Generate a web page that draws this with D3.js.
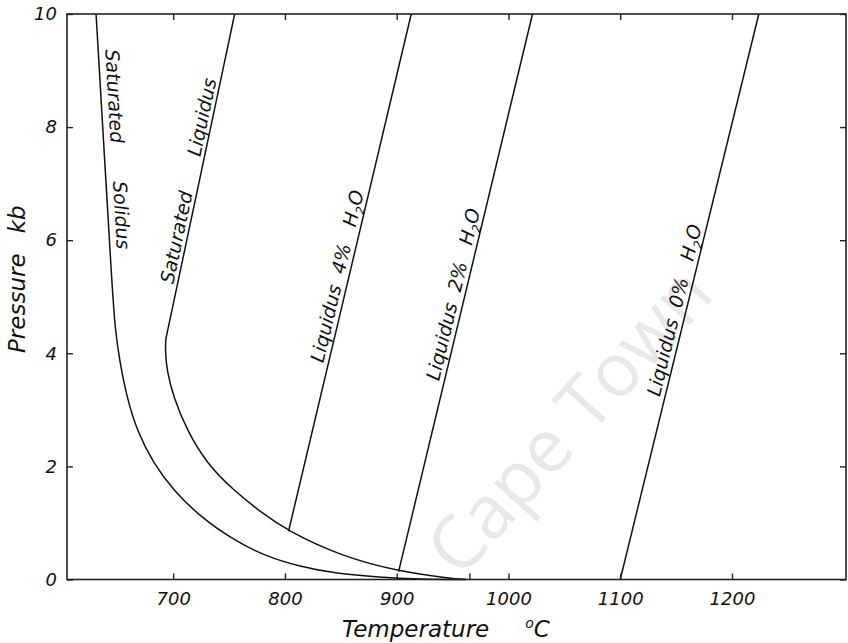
<!DOCTYPE html>
<html>
<head>
<meta charset="utf-8">
<script src="https://cdn.jsdelivr.net/npm/d3@7"></script>
<style>
  body { margin: 0; background: #fff; }
  svg { display: block; }
  text { font-family: "DejaVu Sans", sans-serif; font-style: italic; fill: #111; }
</style>
</head>
<body>
<div id="chart"></div>
<script>
// ticks
const tempTicks = [700, 800, 900, 1000, 1100, 1200]
const pressTicks = [0, 2, 4, 6, 8, 10]
const solidusEndTick = [965]

// saturated solidus (T degC, P kb)
const solidusT = [631, 638, 645, 648, 652.5, 658.5, 667.4, 682.3, 700.2, 724.1, 753.9, 783.8, 813.6, 843.5, 885.3, 921, 962]
const solidusP = [10, 7.65, 5.3, 4.41, 3.82, 3.23, 2.64, 2.05, 1.58, 1.11, 0.70, 0.40, 0.23, 0.11, 0.035, 0.005, 0]

// saturated liquidus, meets the water-undersaturated liquidi at low P
const satLiqT = [755, 704.7, 693.6, 692.8, 694.3, 700.2, 712.2, 730.1, 753.9, 777.8, 803.2, 849.5, 901.7, 948, 962]
const satLiqP = [10, 5.3, 4.27, 4.06, 3.70, 3.23, 2.64, 2.05, 1.58, 1.20, 0.85, 0.42, 0.14, 0.02, 0]
const satLiqKink = 2   // index of the corner near 4.3 kb

// liquidus at fixed water content
const liq4T = [803.2, 913], liq4P = [0.85, 10]
const liq2T = [901.7, 1021.5], liq2P = [0.14, 10]
const liq0T = [1100, 1224], liq0P = [0, 10]

const width = 848, height = 643
const x = d3.scaleLinear().domain([605, 1302]).range([67, 846])
const y = d3.scaleLinear().domain([0, 10]).range([579.5, 14])

const svg = d3.select("#chart").append("svg")
    .attr("width", width)
    .attr("height", height)

// scan watermark
svg.append("text")
    .attr("transform", "translate(716,296) rotate(-48)")
    .attr("text-anchor", "end")
    .style("font-family", "'Open Sans', sans-serif")
    .style("font-style", "normal")
    .style("font-size", "74px")
    .style("fill", "#e8e8e8")
    .text("Cape Town")

function zip(ts, ps) { return ts.map((t, i) => [t, ps[i]]) }

const line = d3.line()
    .x(d => x(d[0]))
    .y(d => y(d[1]))
    .curve(d3.curveBasis)

const satLiq = zip(satLiqT, satLiqP)
const curves = [
    zip(solidusT, solidusP),
    satLiq.slice(0, satLiqKink + 1),
    satLiq.slice(satLiqKink),
    zip(liq4T, liq4P),
    zip(liq2T, liq2P),
    zip(liq0T, liq0P)
]

svg.append("g")
    .selectAll("path")
    .data(curves)
    .enter()
    .append("path")
    .attr("d", line)
    .attr("fill", "none")
    .attr("stroke", "#111")
    .attr("stroke-width", 1.5)
    .attr("stroke-linejoin", "round")

// frame
svg.append("rect")
    .attr("x", x.range()[0])
    .attr("y", y.range()[1])
    .attr("width", x.range()[1] - x.range()[0])
    .attr("height", y.range()[0] - y.range()[1])
    .attr("fill", "none")
    .attr("stroke", "#222")
    .attr("stroke-width", 1.6)

let bottom = svg.append("g")
    .attr("transform", "translate(0," + y.range()[0] + ")")
    .call(d3.axisBottom(x)
        .tickValues(tempTicks.concat(solidusEndTick))
        .tickFormat(d => tempTicks.includes(d) ? d : "")
        .tickSize(-6)
        .tickPadding(13))
let top_ = svg.append("g")
    .attr("transform", "translate(0," + y.range()[1] + ")")
    .call(d3.axisTop(x).tickValues(tempTicks).tickFormat("").tickSize(-6))
let left = svg.append("g")
    .attr("transform", "translate(" + x.range()[0] + ",0)")
    .call(d3.axisLeft(y).tickValues(pressTicks).tickSize(-6).tickPadding(10))
let right = svg.append("g")
    .attr("transform", "translate(" + x.range()[1] + ",0)")
    .call(d3.axisRight(y).tickValues(pressTicks).tickFormat("").tickSize(-6))

for (const g of [bottom, top_, left, right]) {
    g.select(".domain").remove()
    g.selectAll("line").attr("stroke", "#222").attr("stroke-width", 1.4)
    g.selectAll("text")
        .style("font-family", "'DejaVu Sans', sans-serif")
        .style("font-style", "italic")
        .style("font-size", "18px")
        .attr("fill", "#111")
}

// axis titles
svg.append("text")
    .attr("transform", "translate(25,353) rotate(-90)")
    .style("font-size", "23px")
    .text("Pressure")
    .append("tspan").attr("dx", 20).text("kb")

let xt = svg.append("text")
    .attr("x", 342)
    .attr("y", 637)
    .style("font-size", "23px")
    .text("Temperature")
xt.append("tspan").attr("dx", 36).attr("dy", -9).style("font-size", "14px").text("o")
xt.append("tspan").attr("dy", 9).text("C")

// labels along curves: straight segment, pressure where text starts, offset from line
function placeLabel(p0, p1, pStart, off) {
    let a = [x(p0[0]), y(p0[1])], b = [x(p1[0]), y(p1[1])]
    let len = Math.hypot(b[0] - a[0], b[1] - a[1])
    let ux = (b[0] - a[0]) / len, uy = (b[1] - a[1]) / len
    let ys = y(pStart)
    let xs = a[0] + (b[0] - a[0]) * (ys - a[1]) / (b[1] - a[1])
    let px = xs + uy * off, py = ys - ux * off
    let ang = Math.atan2(uy, ux) * 180 / Math.PI
    return svg.append("text")
        .attr("transform", "translate(" + px + "," + py + ") rotate(" + ang + ")")
        .style("font-size", "19px")
}

const solSeg = [[631, 10], [645, 5.3]]
const satSeg = [[693.6, 4.27], [755, 10]]

placeLabel(solSeg[0], solSeg[1], 9.36, 7).text("Saturated")
placeLabel(solSeg[0], solSeg[1], 7.03, 7).text("Solidus")
placeLabel(satSeg[0], satSeg[1], 5.2, 4).text("Saturated")
placeLabel(satSeg[0], satSeg[1], 7.45, 4).text("Liquidus")

function waterLabel(ts, ps, pStart, pct) {
    let t = placeLabel([ts[0], ps[0]], [ts[1], ps[1]], pStart, 5)
    t.append("tspan").text("Liquidus")
    t.append("tspan").attr("dx", 12).text(pct + "%")
    t.append("tspan").attr("dx", 18).text("H")
    t.append("tspan").attr("dy", 5).style("font-size", "12px").text("2")
    t.append("tspan").attr("dy", -5).text("O")
}

waterLabel(liq4T, liq4P, 3.8, 4)
waterLabel(liq2T, liq2P, 3.48, 2)
waterLabel(liq0T, liq0P, 3.2, 0)
</script>
</body>
</html>
